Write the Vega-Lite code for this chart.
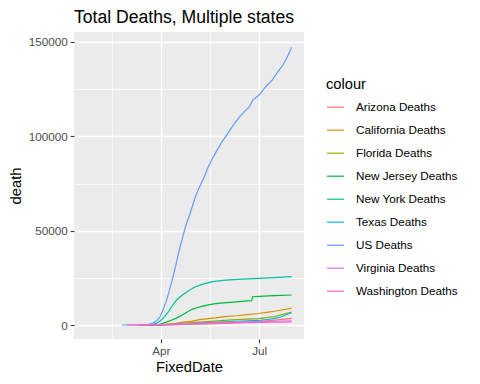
{
  "$schema": "https://vega.github.io/schema/vega-lite/v6.json",
  "width": 230,
  "height": 307,
  "autosize": "none",
  "padding": {"left": 74, "top": 32, "right": 176, "bottom": 45},
  "background": "white",
  "title": {
    "text": "Total Deaths, Multiple states",
    "anchor": "start",
    "frame": "group",
    "font": "Liberation Sans",
    "fontSize": 17.6,
    "fontWeight": "normal",
    "color": "black",
    "baseline": "bottom",
    "offset": 7,
    "dy": 20
  },
  "config": {
    "view": {"fill": "#EBEBEB", "stroke": null},
    "axis": {
      "domain": false,
      "gridColor": "white",
      "tickColor": "#333333",
      "tickWidth": 1.1,
      "labelColor": "#4D4D4D",
      "labelFont": "Liberation Sans",
      "labelFontSize": 11.7,
      "titleFont": "Liberation Sans",
      "titleFontSize": 14.7,
      "titleFontWeight": "normal",
      "titleColor": "black"
    }
  },
  "data": {
    "values": [
      {"s": "US Deaths", "d": "2020-02-25", "v": 0},
      {"s": "US Deaths", "d": "2020-03-10", "v": 30},
      {"s": "US Deaths", "d": "2020-03-15", "v": 70},
      {"s": "US Deaths", "d": "2020-03-20", "v": 250},
      {"s": "US Deaths", "d": "2020-03-25", "v": 1000},
      {"s": "US Deaths", "d": "2020-03-28", "v": 2200},
      {"s": "US Deaths", "d": "2020-03-31", "v": 4000},
      {"s": "US Deaths", "d": "2020-04-03", "v": 7900},
      {"s": "US Deaths", "d": "2020-04-06", "v": 12500},
      {"s": "US Deaths", "d": "2020-04-09", "v": 18500},
      {"s": "US Deaths", "d": "2020-04-12", "v": 25000},
      {"s": "US Deaths", "d": "2020-04-15", "v": 32000},
      {"s": "US Deaths", "d": "2020-04-18", "v": 39500},
      {"s": "US Deaths", "d": "2020-04-21", "v": 46000},
      {"s": "US Deaths", "d": "2020-04-24", "v": 52500},
      {"s": "US Deaths", "d": "2020-04-28", "v": 59000},
      {"s": "US Deaths", "d": "2020-05-01", "v": 64500},
      {"s": "US Deaths", "d": "2020-05-04", "v": 69500},
      {"s": "US Deaths", "d": "2020-05-07", "v": 73500},
      {"s": "US Deaths", "d": "2020-05-10", "v": 77000},
      {"s": "US Deaths", "d": "2020-05-15", "v": 84000},
      {"s": "US Deaths", "d": "2020-05-19", "v": 88500},
      {"s": "US Deaths", "d": "2020-05-23", "v": 92700},
      {"s": "US Deaths", "d": "2020-05-28", "v": 97500},
      {"s": "US Deaths", "d": "2020-06-02", "v": 101600},
      {"s": "US Deaths", "d": "2020-06-07", "v": 106000},
      {"s": "US Deaths", "d": "2020-06-13", "v": 110400},
      {"s": "US Deaths", "d": "2020-06-18", "v": 113500},
      {"s": "US Deaths", "d": "2020-06-22", "v": 115700},
      {"s": "US Deaths", "d": "2020-06-25", "v": 119200},
      {"s": "US Deaths", "d": "2020-07-01", "v": 121900},
      {"s": "US Deaths", "d": "2020-07-07", "v": 126300},
      {"s": "US Deaths", "d": "2020-07-13", "v": 129800},
      {"s": "US Deaths", "d": "2020-07-18", "v": 134000},
      {"s": "US Deaths", "d": "2020-07-23", "v": 137800},
      {"s": "US Deaths", "d": "2020-07-27", "v": 142000},
      {"s": "US Deaths", "d": "2020-07-31", "v": 147200},

      {"s": "New York Deaths", "d": "2020-03-12", "v": 0},
      {"s": "New York Deaths", "d": "2020-03-20", "v": 40},
      {"s": "New York Deaths", "d": "2020-03-25", "v": 300},
      {"s": "New York Deaths", "d": "2020-03-28", "v": 900},
      {"s": "New York Deaths", "d": "2020-04-01", "v": 2400},
      {"s": "New York Deaths", "d": "2020-04-04", "v": 4200},
      {"s": "New York Deaths", "d": "2020-04-08", "v": 7000},
      {"s": "New York Deaths", "d": "2020-04-12", "v": 10600},
      {"s": "New York Deaths", "d": "2020-04-16", "v": 13500},
      {"s": "New York Deaths", "d": "2020-04-21", "v": 15900},
      {"s": "New York Deaths", "d": "2020-04-27", "v": 18300},
      {"s": "New York Deaths", "d": "2020-05-03", "v": 20300},
      {"s": "New York Deaths", "d": "2020-05-10", "v": 21700},
      {"s": "New York Deaths", "d": "2020-05-16", "v": 22600},
      {"s": "New York Deaths", "d": "2020-05-19", "v": 23000},
      {"s": "New York Deaths", "d": "2020-05-31", "v": 23800},
      {"s": "New York Deaths", "d": "2020-06-15", "v": 24300},
      {"s": "New York Deaths", "d": "2020-07-01", "v": 24700},
      {"s": "New York Deaths", "d": "2020-07-15", "v": 25100},
      {"s": "New York Deaths", "d": "2020-07-31", "v": 25600},

      {"s": "New Jersey Deaths", "d": "2020-03-12", "v": 0},
      {"s": "New Jersey Deaths", "d": "2020-03-25", "v": 50},
      {"s": "New Jersey Deaths", "d": "2020-03-31", "v": 300},
      {"s": "New Jersey Deaths", "d": "2020-04-03", "v": 900},
      {"s": "New Jersey Deaths", "d": "2020-04-06", "v": 1500},
      {"s": "New Jersey Deaths", "d": "2020-04-10", "v": 2400},
      {"s": "New Jersey Deaths", "d": "2020-04-15", "v": 3500},
      {"s": "New Jersey Deaths", "d": "2020-04-20", "v": 5000},
      {"s": "New Jersey Deaths", "d": "2020-04-25", "v": 6800},
      {"s": "New Jersey Deaths", "d": "2020-04-30", "v": 8300},
      {"s": "New Jersey Deaths", "d": "2020-05-05", "v": 9300},
      {"s": "New Jersey Deaths", "d": "2020-05-10", "v": 10000},
      {"s": "New Jersey Deaths", "d": "2020-05-15", "v": 10700},
      {"s": "New Jersey Deaths", "d": "2020-05-20", "v": 11200},
      {"s": "New Jersey Deaths", "d": "2020-05-26", "v": 11600},
      {"s": "New Jersey Deaths", "d": "2020-06-01", "v": 11900},
      {"s": "New Jersey Deaths", "d": "2020-06-10", "v": 12300},
      {"s": "New Jersey Deaths", "d": "2020-06-20", "v": 12800},
      {"s": "New Jersey Deaths", "d": "2020-06-24", "v": 12900},
      {"s": "New Jersey Deaths", "d": "2020-06-25", "v": 15000},
      {"s": "New Jersey Deaths", "d": "2020-07-01", "v": 15200},
      {"s": "New Jersey Deaths", "d": "2020-07-15", "v": 15600},
      {"s": "New Jersey Deaths", "d": "2020-07-31", "v": 15900},

      {"s": "California Deaths", "d": "2020-03-12", "v": 0},
      {"s": "California Deaths", "d": "2020-03-25", "v": 60},
      {"s": "California Deaths", "d": "2020-04-01", "v": 200},
      {"s": "California Deaths", "d": "2020-04-08", "v": 500},
      {"s": "California Deaths", "d": "2020-04-15", "v": 850},
      {"s": "California Deaths", "d": "2020-04-22", "v": 1500},
      {"s": "California Deaths", "d": "2020-04-30", "v": 2100},
      {"s": "California Deaths", "d": "2020-05-07", "v": 2800},
      {"s": "California Deaths", "d": "2020-05-15", "v": 3400},
      {"s": "California Deaths", "d": "2020-05-22", "v": 3800},
      {"s": "California Deaths", "d": "2020-05-30", "v": 4400},
      {"s": "California Deaths", "d": "2020-06-10", "v": 4900},
      {"s": "California Deaths", "d": "2020-06-20", "v": 5500},
      {"s": "California Deaths", "d": "2020-06-30", "v": 6100},
      {"s": "California Deaths", "d": "2020-07-08", "v": 6700},
      {"s": "California Deaths", "d": "2020-07-15", "v": 7300},
      {"s": "California Deaths", "d": "2020-07-23", "v": 8100},
      {"s": "California Deaths", "d": "2020-07-31", "v": 8900},

      {"s": "Florida Deaths", "d": "2020-03-12", "v": 0},
      {"s": "Florida Deaths", "d": "2020-03-25", "v": 20},
      {"s": "Florida Deaths", "d": "2020-04-01", "v": 90},
      {"s": "Florida Deaths", "d": "2020-04-08", "v": 300},
      {"s": "Florida Deaths", "d": "2020-04-15", "v": 600},
      {"s": "Florida Deaths", "d": "2020-04-22", "v": 900},
      {"s": "Florida Deaths", "d": "2020-04-30", "v": 1300},
      {"s": "Florida Deaths", "d": "2020-05-10", "v": 1700},
      {"s": "Florida Deaths", "d": "2020-05-20", "v": 2100},
      {"s": "Florida Deaths", "d": "2020-05-30", "v": 2400},
      {"s": "Florida Deaths", "d": "2020-06-10", "v": 2800},
      {"s": "Florida Deaths", "d": "2020-06-20", "v": 3100},
      {"s": "Florida Deaths", "d": "2020-06-30", "v": 3400},
      {"s": "Florida Deaths", "d": "2020-07-08", "v": 3900},
      {"s": "Florida Deaths", "d": "2020-07-15", "v": 4500},
      {"s": "Florida Deaths", "d": "2020-07-23", "v": 5600},
      {"s": "Florida Deaths", "d": "2020-07-31", "v": 6900},

      {"s": "Texas Deaths", "d": "2020-03-12", "v": 0},
      {"s": "Texas Deaths", "d": "2020-03-25", "v": 10},
      {"s": "Texas Deaths", "d": "2020-04-01", "v": 60},
      {"s": "Texas Deaths", "d": "2020-04-08", "v": 200},
      {"s": "Texas Deaths", "d": "2020-04-15", "v": 400},
      {"s": "Texas Deaths", "d": "2020-04-22", "v": 550},
      {"s": "Texas Deaths", "d": "2020-04-30", "v": 850},
      {"s": "Texas Deaths", "d": "2020-05-10", "v": 1100},
      {"s": "Texas Deaths", "d": "2020-05-20", "v": 1400},
      {"s": "Texas Deaths", "d": "2020-05-30", "v": 1700},
      {"s": "Texas Deaths", "d": "2020-06-10", "v": 2000},
      {"s": "Texas Deaths", "d": "2020-06-20", "v": 2200},
      {"s": "Texas Deaths", "d": "2020-06-30", "v": 2400},
      {"s": "Texas Deaths", "d": "2020-07-08", "v": 2800},
      {"s": "Texas Deaths", "d": "2020-07-15", "v": 3500},
      {"s": "Texas Deaths", "d": "2020-07-20", "v": 4000},
      {"s": "Texas Deaths", "d": "2020-07-27", "v": 5700},
      {"s": "Texas Deaths", "d": "2020-07-31", "v": 6500},

      {"s": "Arizona Deaths", "d": "2020-03-12", "v": 0},
      {"s": "Arizona Deaths", "d": "2020-04-01", "v": 20},
      {"s": "Arizona Deaths", "d": "2020-04-15", "v": 120},
      {"s": "Arizona Deaths", "d": "2020-04-30", "v": 320},
      {"s": "Arizona Deaths", "d": "2020-05-15", "v": 550},
      {"s": "Arizona Deaths", "d": "2020-05-30", "v": 900},
      {"s": "Arizona Deaths", "d": "2020-06-15", "v": 1300},
      {"s": "Arizona Deaths", "d": "2020-06-30", "v": 1850},
      {"s": "Arizona Deaths", "d": "2020-07-08", "v": 2150},
      {"s": "Arizona Deaths", "d": "2020-07-15", "v": 2550},
      {"s": "Arizona Deaths", "d": "2020-07-23", "v": 3000},
      {"s": "Arizona Deaths", "d": "2020-07-31", "v": 3500},

      {"s": "Virginia Deaths", "d": "2020-03-12", "v": 0},
      {"s": "Virginia Deaths", "d": "2020-04-01", "v": 20},
      {"s": "Virginia Deaths", "d": "2020-04-15", "v": 150},
      {"s": "Virginia Deaths", "d": "2020-04-30", "v": 600},
      {"s": "Virginia Deaths", "d": "2020-05-15", "v": 950},
      {"s": "Virginia Deaths", "d": "2020-05-30", "v": 1300},
      {"s": "Virginia Deaths", "d": "2020-06-15", "v": 1600},
      {"s": "Virginia Deaths", "d": "2020-06-30", "v": 1800},
      {"s": "Virginia Deaths", "d": "2020-07-15", "v": 2000},
      {"s": "Virginia Deaths", "d": "2020-07-31", "v": 2200},

      {"s": "Washington Deaths", "d": "2020-03-01", "v": 1},
      {"s": "Washington Deaths", "d": "2020-03-15", "v": 40},
      {"s": "Washington Deaths", "d": "2020-04-01", "v": 230},
      {"s": "Washington Deaths", "d": "2020-04-15", "v": 520},
      {"s": "Washington Deaths", "d": "2020-04-30", "v": 800},
      {"s": "Washington Deaths", "d": "2020-05-15", "v": 1000},
      {"s": "Washington Deaths", "d": "2020-05-30", "v": 1100},
      {"s": "Washington Deaths", "d": "2020-06-15", "v": 1250},
      {"s": "Washington Deaths", "d": "2020-06-30", "v": 1350},
      {"s": "Washington Deaths", "d": "2020-07-15", "v": 1450},
      {"s": "Washington Deaths", "d": "2020-07-31", "v": 1600}
    ]
  },
  "mark": {"type": "line", "strokeWidth": 1.2, "clip": true},
  "encoding": {
    "x": {
      "field": "d",
      "type": "temporal",
      "title": "FixedDate",
      "scale": {
        "type": "utc",
        "domain": [
          {"year": 2020, "month": 1, "date": 11, "hours": 17, "utc": true},
          {"year": 2020, "month": 8, "date": 11, "hours": 10, "utc": true}
        ],
        "nice": false
      },
      "axis": {
        "values": [
          {"year": 2020, "month": 2, "date": 15, "hours": 12, "utc": true},
          {"year": 2020, "month": 4, "date": 1, "utc": true},
          {"year": 2020, "month": 5, "date": 16, "hours": 12, "utc": true},
          {"year": 2020, "month": 7, "date": 1, "utc": true}
        ],
        "labelExpr": "utcmonth(datum.value) == 3 ? 'Apr' : (utcmonth(datum.value) == 6 ? 'Jul' : '')",
        "tickSize": {"condition": {"test": "utcdate(datum.value) == 1", "value": 3.7}, "value": 0},
        "gridWidth": {"condition": {"test": "utcdate(datum.value) == 1", "value": 1.4}, "value": 0.7},
        "labelPadding": 2.5,
        "titlePadding": 3,
        "labelFlush": false
      }
    },
    "y": {
      "field": "v",
      "type": "quantitative",
      "title": "death",
      "scale": {"domain": [-7420, 155300], "nice": false, "zero": false},
      "axis": {
        "values": [0, 25000, 50000, 75000, 100000, 125000, 150000],
        "labelExpr": "datum.value % 50000 == 0 ? format(datum.value, 'd') : ''",
        "tickSize": {"condition": {"test": "datum.value % 50000 == 0", "value": 3.7}, "value": 0},
        "gridWidth": {"condition": {"test": "datum.value % 50000 == 0", "value": 1.4}, "value": 0.7},
        "labelPadding": 3,
        "titlePadding": 5,
        "labelFlush": false
      }
    },
    "color": {
      "field": "s",
      "type": "nominal",
      "title": "colour",
      "scale": {
        "domain": ["Arizona Deaths", "California Deaths", "Florida Deaths", "New Jersey Deaths", "New York Deaths", "Texas Deaths", "US Deaths", "Virginia Deaths", "Washington Deaths"],
        "range": ["#F8766D", "#D39200", "#93AA00", "#00BA38", "#00C19F", "#00B9E3", "#619CFF", "#DB72FB", "#FF61C3"]
      },
      "legend": {
        "orient": "none",
        "legendX": 252,
        "legendY": 45,
        "symbolType": "stroke",
        "symbolSize": 289,
        "symbolStrokeWidth": 1.2,
        "labelFont": "Liberation Sans",
        "labelFontSize": 11.7,
        "labelColor": "black",
        "labelOffset": 11,
        "rowPadding": 6,
        "titleFont": "Liberation Sans",
        "titleFontSize": 14.7,
        "titleFontWeight": "normal",
        "titleColor": "black",
        "titlePadding": 6
      }
    }
  }
}
